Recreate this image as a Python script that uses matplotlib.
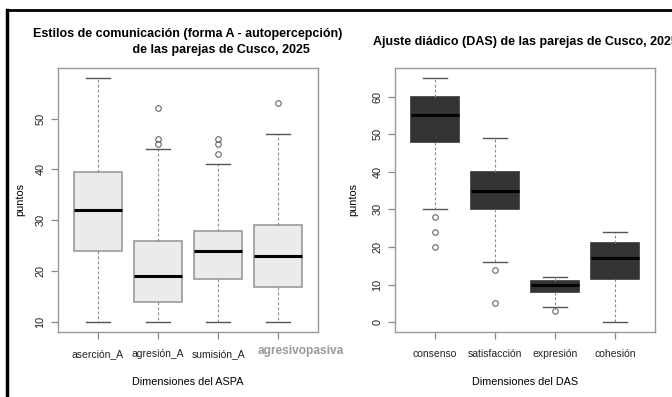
import numpy as np
import matplotlib
matplotlib.use('Agg')
import matplotlib.pyplot as plt
from matplotlib.lines import Line2D

plt.rcParams['font.family'] = ['Liberation Sans', 'DejaVu Sans']

# ASPA - estilos de comunicacion (forma A)
aspa_labels = ['aserción_A', 'agresión_A', 'sumisión_A', 'agresivopasiva']
aspa_whislo = [10, 10, 10, 10]
aspa_q1 = [24, 14, 18.5, 17]
aspa_med = [32, 19, 24, 23]
aspa_q3 = [39.5, 26, 28, 29]
aspa_whishi = [58, 44, 41, 47]
aspa_fliers = [[], [45, 46, 52], [43, 45, 46], [53]]
aspa_yticks = [10, 20, 30, 40, 50]

# DAS - ajuste diadico
das_labels = ['consenso', 'satisfacción', 'expresión', 'cohesión']
das_whislo = [30, 16, 4, 0]
das_q1 = [48, 30, 8, 11.5]
das_med = [55, 35, 10, 17]
das_q3 = [60, 40, 11, 21]
das_whishi = [65, 49, 12, 24]
das_fliers = [[20, 24, 28], [5, 14], [3], []]
das_yticks = [0, 10, 20, 30, 40, 50, 60]


def make_stats(labels, lo, q1, med, q3, hi, fliers):
    stats = []
    for i in range(len(labels)):
        stats.append(dict(label=labels[i], whislo=lo[i], q1=q1[i], med=med[i],
                          q3=q3[i], whishi=hi[i], fliers=np.array(fliers[i])))
    return stats


def r_boxplot(ax, stats, yticks, facecolor, edgecolor):
    n = len(stats)
    ax.bxp(stats, positions=range(1, n + 1), widths=0.8, patch_artist=True,
           boxprops=dict(facecolor=facecolor, edgecolor=edgecolor, linewidth=1.2),
           medianprops=dict(color='black', linewidth=2.2),
           whiskerprops=dict(color='#8a8a8a', linestyle=(0, (2.5, 2)), linewidth=0.8),
           capprops=dict(color='#555555', linewidth=1.0),
           flierprops=dict(marker='o', markersize=4, markerfacecolor='none',
                           markeredgecolor='#666666', markeredgewidth=0.8),
           capwidths=0.4)
    lo = min([s['whislo'] for s in stats] + [min(s['fliers'], default=999) for s in stats])
    hi = max([s['whishi'] for s in stats] + [max(s['fliers'], default=-999) for s in stats])
    pad = (hi - lo) * 0.04
    ax.set_ylim(lo - pad, hi + pad)
    ax.set_xlim(0.5 - 0.16, n + 0.5 + 0.16)
    ax.set_yticks(yticks)
    ax.set_yticklabels([str(t) for t in yticks], rotation=90, va='center', fontsize=7.8)
    for sp in ax.spines.values():
        sp.set_color('#999999')
        sp.set_linewidth(1.0)
    ax.tick_params(axis='both', colors='#888888', length=5, width=0.9, labelcolor='#222222')
    ax.tick_params(axis='x', pad=7, labelsize=7.5)
    ax.tick_params(axis='y', pad=4)


fig = plt.figure(figsize=(6.72, 3.97), dpi=100)

ax1 = fig.add_axes([58 / 672, 1 - 332 / 397, 260 / 672, 264 / 397])
r_boxplot(ax1, make_stats(aspa_labels, aspa_whislo, aspa_q1, aspa_med, aspa_q3,
                          aspa_whishi, aspa_fliers),
          aspa_yticks, '#ebebeb', '#9a9a9a')
# the last label sits lighter, bigger and a bit to the right in the original
ax1.set_xticklabels(aspa_labels[:3] + [''])
ax1.text(len(aspa_labels) + 0.37, -0.072, aspa_labels[3],
         transform=ax1.get_xaxis_transform(), ha='center', va='center',
         fontsize=8.6, fontweight='bold', color='#9a9a9a')
ax1.set_ylabel('puntos', fontsize=7.8)
ax1.yaxis.set_label_coords(-0.125, 0.5)
ax1.set_xlabel('Dimensiones del ASPA', fontsize=7.8)
ax1.xaxis.set_label_coords(0.5, -0.17)
ax1.text(0.5, 1.10, 'Estilos de comunicación (forma A - autopercepción)\n' + ' ' * 19 + 'de las parejas de Cusco, 2025',
         transform=ax1.transAxes, ha='center', va='center', fontsize=9.0,
         fontweight='bold', linespacing=1.45)

ax2 = fig.add_axes([395 / 672, 1 - 332 / 397, 260 / 672, 264 / 397])
r_boxplot(ax2, make_stats(das_labels, das_whislo, das_q1, das_med, das_q3,
                          das_whishi, das_fliers),
          das_yticks, '#333333', '#333333')
ax2.set_ylabel('puntos', fontsize=7.8)
ax2.yaxis.set_label_coords(-0.142, 0.5)
ax2.set_xlabel('Dimensiones del DAS', fontsize=7.8)
ax2.xaxis.set_label_coords(0.5, -0.17)
ax2.text(0.5, 1.10, 'Ajuste diádico (DAS) de las parejas de Cusco, 2025',
         transform=ax2.transAxes, ha='center', va='center', fontsize=9.0,
         fontweight='bold')

# black frame lines (top and left)
fig.add_artist(Line2D([7 / 672, 1], [1 - 10 / 397, 1 - 10 / 397], color='black', linewidth=2))
fig.add_artist(Line2D([7 / 672, 7 / 672], [0, 1 - 10 / 397], color='black', linewidth=2.5))

fig.savefig('out.png', dpi=100)
